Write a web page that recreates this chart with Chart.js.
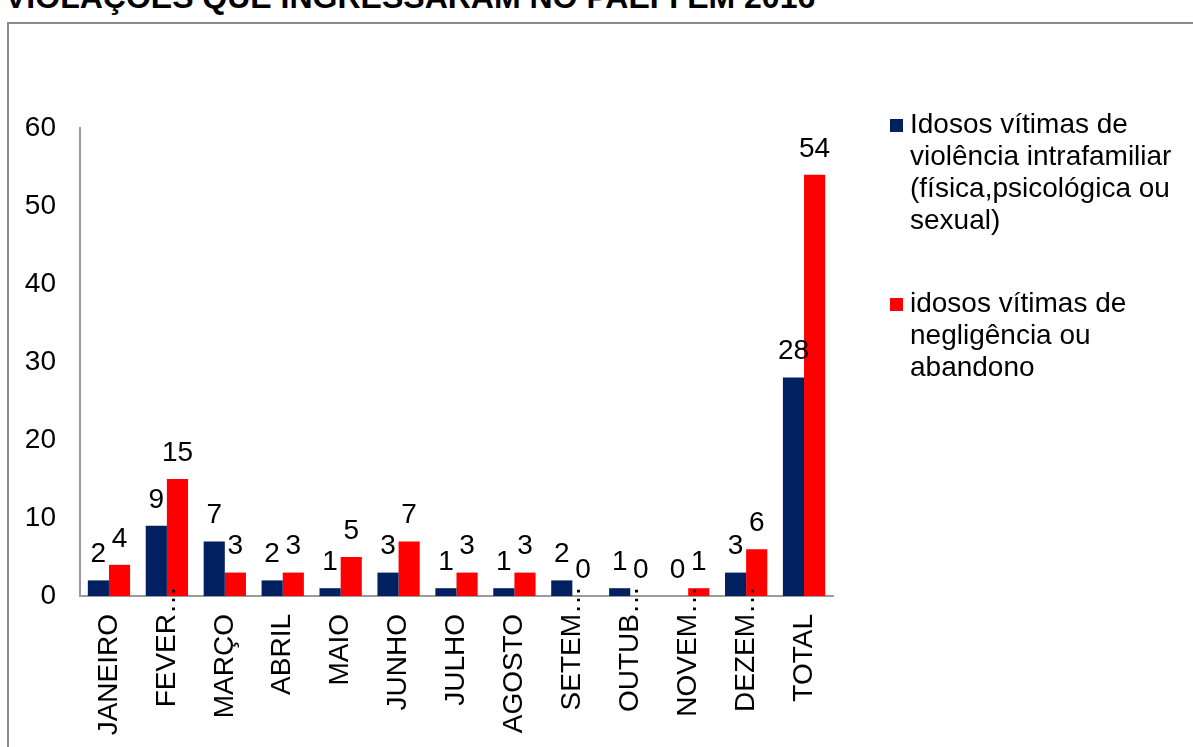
<!DOCTYPE html>
<html lang="pt">
<head>
<meta charset="UTF-8">
<title>Violações que ingressaram no PAEFI em 2016</title>
<script src="https://cdn.jsdelivr.net/npm/chart.js"></script>
<style>
    html, body {
        margin: 0;
        padding: 0;
        background: #ffffff;
        overflow: hidden;
    }
    body {
        width: 1193px;
        height: 747px;
        position: relative;
        font-family: "Liberation Sans", Arial, sans-serif;
    }
    #titulo {
        position: absolute;
        left: 5px;
        top: -19px;
        font-size: 32px;
        line-height: 32px;
        font-weight: bold;
        color: #000;
        white-space: nowrap;
    }
    #moldura {
        position: absolute;
        left: 7px;
        top: 22px;
        width: 1300px;
        height: 800px;
        border: 2px solid #8c8c8c;
    }
    #grafico {
        position: absolute;
        left: 0;
        top: 0;
    }
</style>
</head>
<body>
<div id="titulo">VIOLAÇÕES QUE INGRESSARAM NO PAEFI EM 2016</div>
<div id="moldura"></div>
<canvas id="grafico" width="1193" height="747"></canvas>

<script>
    // rótulos das categorias como aparecem no gráfico (alguns cortados com "…")
    const meses = ['JANEIRO', 'FEVER…', 'MARÇO', 'ABRIL', 'MAIO', 'JUNHO', 'JULHO',
                   'AGOSTO', 'SETEM…', 'OUTUB…', 'NOVEM…', 'DEZEM…', 'TOTAL'];

    const violenciaIntrafamiliar = [2, 9, 7, 2, 1, 3, 1, 1, 2, 1, 0, 3, 28];
    const negligenciaAbandono    = [4, 15, 3, 3, 5, 7, 3, 3, 0, 0, 1, 6, 54];

    const nomesSeries = [
        'Idosos vítimas de violência intrafamiliar (física,psicológica ou sexual)',
        'idosos vítimas de negligência ou abandono'
    ];

    const ticksY = [0, 10, 20, 30, 40, 50, 60];

    const FONTE = '28px "Liberation Sans", Arial, sans-serif';

    // valores em cima das barras
    const rotulosDados = {
        id: 'rotulosDados',
        afterDatasetsDraw(chart) {
            const ctx = chart.ctx;
            ctx.save();
            ctx.font = FONTE;
            ctx.fillStyle = '#000';
            ctx.textAlign = 'center';
            ctx.textBaseline = 'middle';
            chart.data.datasets.forEach((ds, i) => {
                chart.getDatasetMeta(i).data.forEach((bar, j) => {
                    ctx.fillText(String(ds.data[j]), bar.x, bar.y - 26);
                });
            });
            ctx.restore();
        }
    };

    // rótulos do eixo X na vertical, com as reticências passando para cima do eixo
    const rotulosX = {
        id: 'rotulosX',
        afterDraw(chart) {
            const ctx = chart.ctx;
            const eixo = chart.scales.x;
            ctx.save();
            ctx.font = FONTE;
            ctx.fillStyle = '#000';
            ctx.textBaseline = 'middle';
            chart.data.labels.forEach((rot, i) => {
                const x = eixo.getPixelForTick(i);
                const y = chart.chartArea.bottom + 18;
                let base = rot, resto = '';
                if (rot.endsWith('…')) {
                    base = rot.slice(0, -1);
                    resto = '…';
                }
                ctx.save();
                ctx.translate(x, y);
                ctx.rotate(-Math.PI / 2);
                ctx.textAlign = 'right';
                ctx.fillText(base, 0, 0);
                if (resto) {
                    ctx.textAlign = 'left';
                    ctx.fillText(resto, 0, 0);
                }
                ctx.restore();
            });
            ctx.restore();
        }
    };

    // legenda à direita, com quebra de linha
    const legendaDireita = {
        id: 'legendaDireita',
        afterDraw(chart) {
            const ctx = chart.ctx;
            const larguraMax = 275;
            const alturaLinha = 32;
            let y = 125;
            ctx.save();
            ctx.font = FONTE;
            ctx.textBaseline = 'middle';
            ctx.textAlign = 'left';
            chart.data.datasets.forEach(ds => {
                // quebra o texto em linhas
                const palavras = ds.label.split(' ');
                const linhas = [];
                let atual = '';
                palavras.forEach(p => {
                    const teste = atual ? atual + ' ' + p : p;
                    if (ctx.measureText(teste).width > larguraMax && atual) {
                        linhas.push(atual);
                        atual = p;
                    } else {
                        atual = teste;
                    }
                });
                if (atual) linhas.push(atual);

                ctx.fillStyle = ds.backgroundColor;
                ctx.fillRect(890, y - 6, 13, 13);
                ctx.fillStyle = '#000';
                linhas.forEach((l, k) => {
                    ctx.fillText(l, 910, y + k * alturaLinha);
                });
                y += linhas.length * alturaLinha + 51;
            });
            ctx.restore();
        }
    };

    new Chart(document.getElementById('grafico'), {
        type: 'bar',
        data: {
            labels: meses,
            datasets: [
                {
                    label: nomesSeries[0],
                    data: violenciaIntrafamiliar,
                    backgroundColor: '#002060'
                },
                {
                    label: nomesSeries[1],
                    data: negligenciaAbandono,
                    backgroundColor: '#ff0000'
                }
            ]
        },
        options: {
            responsive: false,
            animation: false,
            layout: {
                padding: { left: 20, top: 128, right: 360, bottom: 0 }
            },
            plugins: {
                legend: { display: false },
                tooltip: { enabled: false }
            },
            datasets: {
                bar: {
                    categoryPercentage: 0.73,
                    barPercentage: 1
                }
            },
            scales: {
                x: {
                    grid: { display: false, drawTicks: false },
                    border: { display: true, color: '#9a9a9a', width: 2 },
                    ticks: { display: false },
                    afterFit(s) { s.height = 151; }
                },
                y: {
                    min: 0,
                    max: 60,
                    grid: { display: false, drawTicks: false },
                    border: { display: true, color: '#9a9a9a', width: 2 },
                    afterBuildTicks(s) { s.ticks = ticksY.map(v => ({ value: v })); },
                    afterFit(s) { s.width = 60; },
                    ticks: {
                        padding: 24,
                        color: '#000',
                        font: { family: '"Liberation Sans", Arial, sans-serif', size: 28 }
                    }
                }
            }
        },
        plugins: [rotulosDados, rotulosX, legendaDireita]
    });
</script>
</body>
</html>
